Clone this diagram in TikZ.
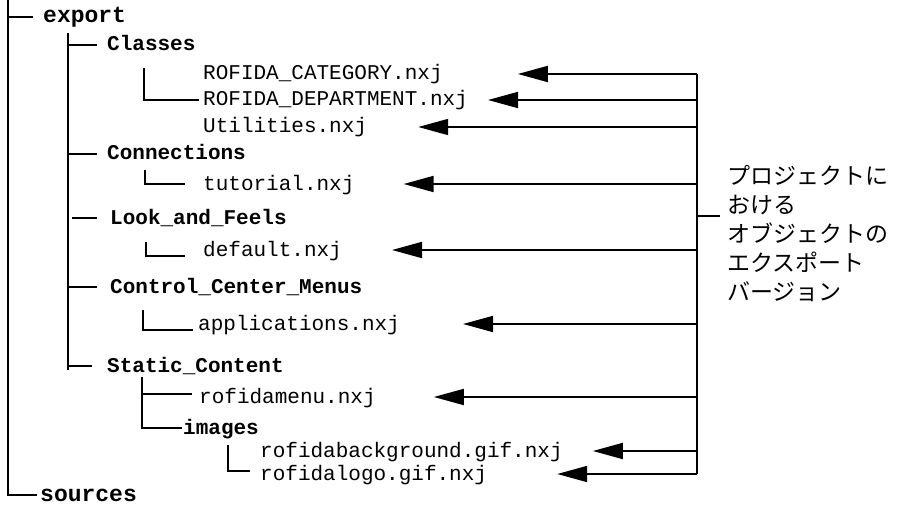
\documentclass[tikz,border=0pt]{standalone}
\usepackage{fontspec}
\usepackage{tikz}
\usetikzlibrary{arrows.meta,positioning,calc}
\newfontfamily\treefont{Liberation Mono}
\newfontfamily\jpfont{Noto Sans CJK JP}

\begin{document}
\begin{tikzpicture}[
    x=1pt, y=-1pt,
    item/.style={inner sep=0pt, anchor=base west, text height=12pt, text depth=0pt},
    file/.style={item, font=\treefont\fontsize{21}{21}\selectfont},
    folder/.style={item, font=\treefont\bfseries\fontsize{21}{21}\selectfont},
    topfolder/.style={item, font=\treefont\bfseries\fontsize{23}{23}\selectfont},
    tree/.style={line width=1.8pt},
    arrow/.style={-{Triangle[length=30pt, width=16pt]}, line width=1.8pt}
]
\useasboundingbox (0,0) rectangle (897,508);

% folders and files
\node[topfolder] (export) at (43,23) {export};
\node[folder] (classes) at (107,51) {Classes};
\node[file] (category) at (203,80) {ROFIDA\_CATEGORY.nxj};
\node[file] (department) at (203,106) {ROFIDA\_DEPARTMENT.nxj};
\node[file] (utilities) at (203,133) {Utilities.nxj};
\node[folder] (connections) at (107,160) {Connections};
\node[file] (tutorial) at (203,190) {tutorial.nxj};
\node[folder] (look) at (110,224) {Look\_and\_Feels};
\node[file] (default) at (203,256) {default.nxj};
\node[folder] (control) at (110,293) {Control\_Center\_Menus};
\node[file] (applications) at (198,330) {applications.nxj};
\node[folder] (static) at (107,372) {Static\_Content};
\node[file] (menu) at (199,403) {rofidamenu.nxj};
\node[folder] (images) at (183,434) {images};
\node[file] (background) at (260,457) {rofidabackground.gif.nxj};
\node[file] (logo) at (260,480) {rofidalogo.gif.nxj};
\node[topfolder] (sources) at (40,501) {sources};

\node[font=\jpfont\fontsize{23}{29}\selectfont, align=left, anchor=west, inner sep=0pt] (note) at (727,234)
    {プロジェクトに\\おける\\オブジェクトの\\エクスポート\\バージョン};

% tree lines
\coordinate (roottop) at (8,0);
\coordinate (exportbar) at (68,33);
\coordinate (classesbar) at (144,68);
\coordinate (staticbar) at (142,377);
\coordinate (imagesbar) at (228,445);

\draw[tree] (roottop) |- ([xshift=-3pt]sources.west);
\draw[tree] (roottop |- export.west) -- ([xshift=-10pt]export.west);

\draw[tree] (exportbar) -- (exportbar |- 0,370);
\draw[tree] (exportbar |- classes.west) -- ([xshift=-10pt]classes.west);
\draw[tree] (exportbar |- connections.west) -- ([xshift=-10pt]connections.west);
\draw[tree] ([xshift=4pt]exportbar |- look.west) -- ([xshift=-13pt]look.west);
\draw[tree] (exportbar |- control.west) -- ([xshift=-13pt]control.west);
\draw[tree] (exportbar |- static.west) -- ([xshift=-15pt]static.west);

\draw[tree] (classesbar) |- ([xshift=-4pt]department.west);
\draw[tree] (145,170) |- ([xshift=-18pt]tutorial.west);
\draw[tree] (146,242) |- ([xshift=-18pt]default.base west);
\draw[tree] (143,310) |- ([xshift=-5pt]applications.base west);
\draw[tree] (staticbar) |- ([xshift=-7pt, yshift=3pt]menu.west);
\draw[tree] (staticbar) |- ([xshift=-1pt]images.west);
\draw[tree] (imagesbar) |- ([xshift=-10pt, yshift=3pt]logo.west);

% export arrows
\coordinate (bus) at (697,0);
\draw[tree] (bus |- category.east) -- (bus |- logo.east);
\foreach \f/\gap in {category/75, department/20, utilities/51, tutorial/49, default/50,
                     applications/63, menu/58, background/30, logo/70}
    \draw[arrow] (bus |- \f.east) -- ([xshift=\gap pt]\f.east);
\draw[tree] (bus |- 0,216) -- (720,216);
\end{tikzpicture}
\end{document}
